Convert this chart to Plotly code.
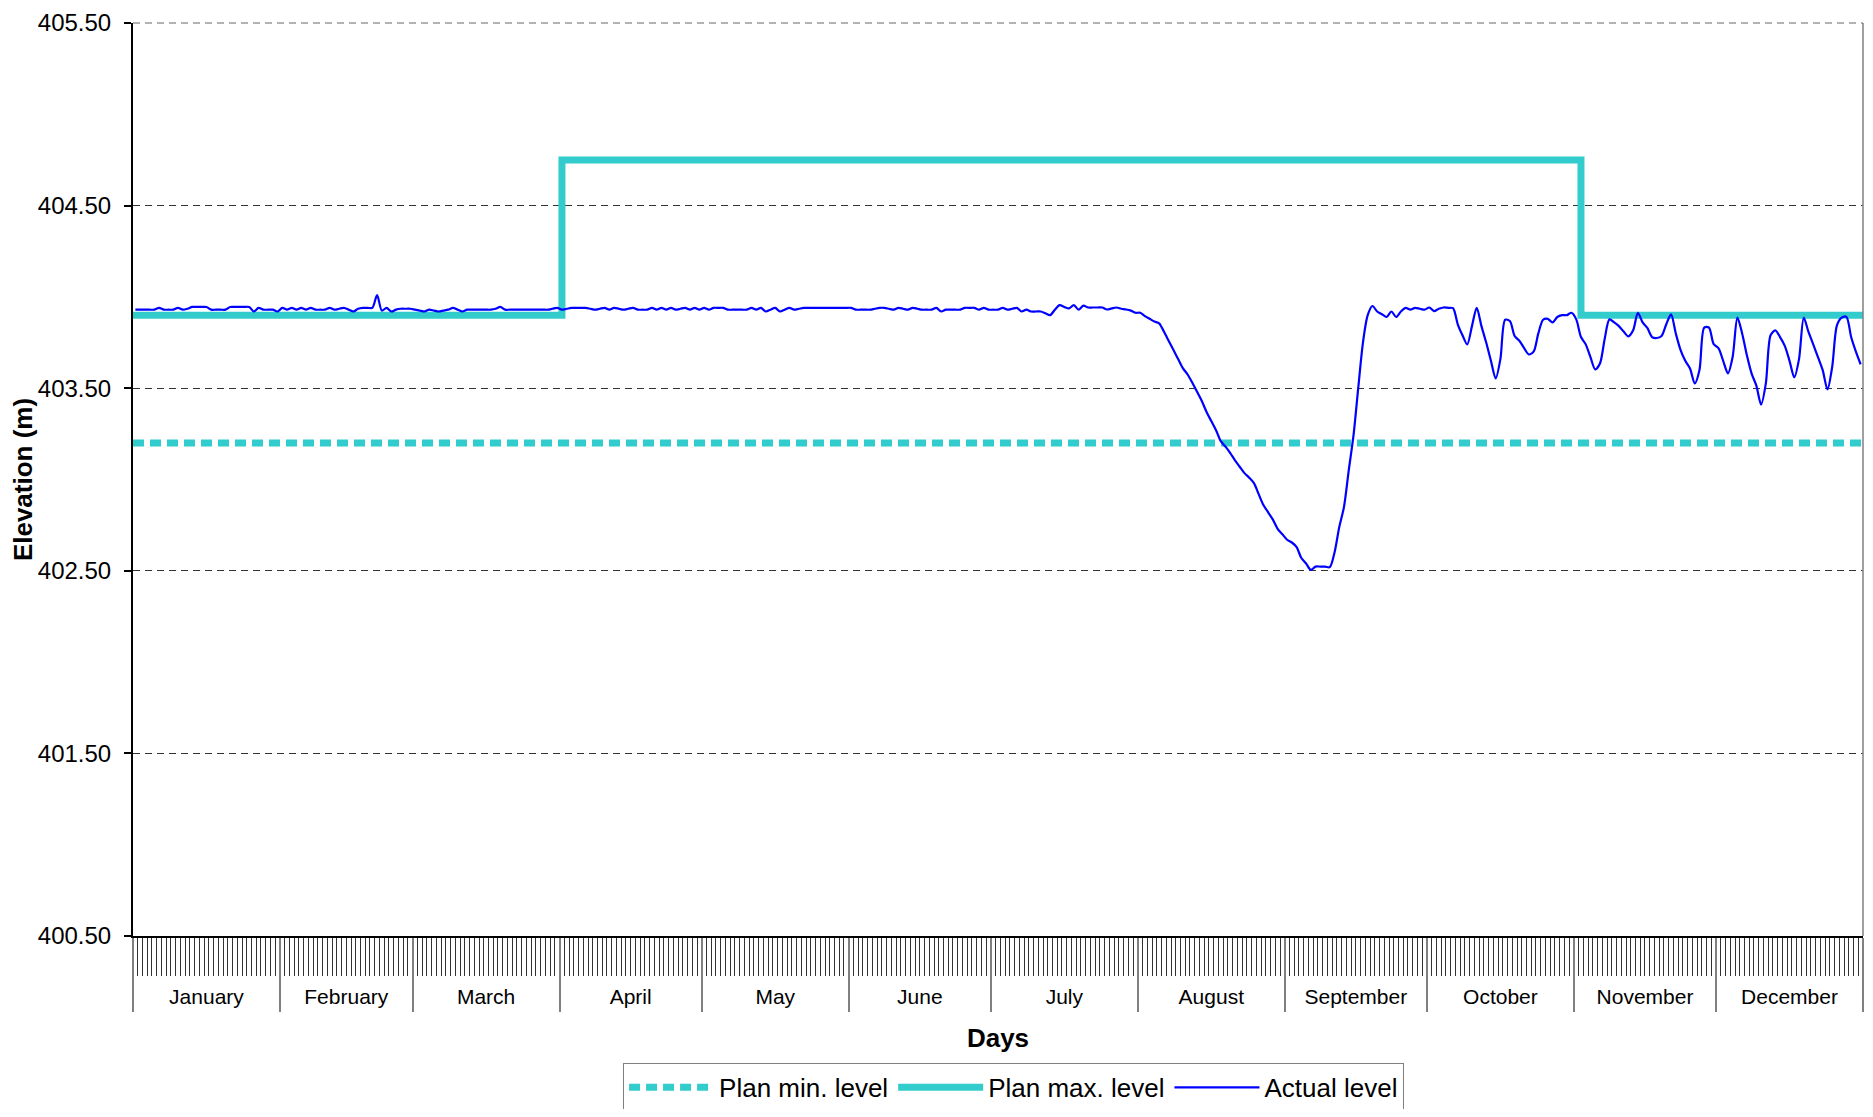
import plotly.graph_objects as go

# ---------------- data ----------------
month_names = ["January", "February", "March", "April", "May", "June",
               "July", "August", "September", "October", "November", "December"]
month_days = [31, 28, 31, 30, 31, 30, 31, 31, 30, 31, 30, 31]

y_ticks = [400.5, 401.5, 402.5, 403.5, 404.5, 405.5]

# Plan levels (day position, elevation m)
plan_min_day = [0, 365]
plan_min_level = [403.20, 403.20]
plan_max_day = [0, 90.5, 305.5, 365]
plan_max_level = [403.90, 404.75, 403.90, 403.90]

# Actual daily level, by month (m)
jan_level = [403.93, 403.93, 403.93, 403.93, 403.93, 403.94, 403.93, 403.93, 403.93, 403.94,
             403.93, 403.935, 403.945, 403.945, 403.945, 403.945, 403.93, 403.93, 403.93, 403.93,
             403.945, 403.945, 403.945, 403.945, 403.945, 403.92, 403.94, 403.93, 403.93, 403.93,
             403.92]
feb_level = [403.94, 403.93, 403.94, 403.93, 403.94, 403.93, 403.94, 403.93, 403.93, 403.93,
             403.94, 403.93, 403.935, 403.94, 403.93, 403.92, 403.935, 403.94, 403.94, 403.94,
             404.01, 403.925, 403.94, 403.92, 403.93, 403.935, 403.935, 403.935]
mar_level = [403.93, 403.925, 403.92, 403.93, 403.925, 403.92, 403.925, 403.93, 403.94, 403.93,
             403.92, 403.93, 403.93, 403.93, 403.93, 403.93, 403.93, 403.935, 403.945, 403.93,
             403.93, 403.93, 403.93, 403.93, 403.93, 403.93, 403.93, 403.93, 403.93, 403.935,
             403.94]
apr_level = [403.93, 403.935, 403.94, 403.94, 403.94, 403.94, 403.935, 403.93, 403.935, 403.94,
             403.93, 403.94, 403.935, 403.93, 403.935, 403.94, 403.93, 403.93, 403.93, 403.94,
             403.93, 403.94, 403.93, 403.94, 403.93, 403.935, 403.94, 403.93, 403.94, 403.93]
may_level = [403.94, 403.93, 403.94, 403.94, 403.94, 403.93, 403.93, 403.93, 403.93, 403.93,
             403.94, 403.93, 403.94, 403.92, 403.93, 403.94, 403.92, 403.93, 403.94, 403.93,
             403.935, 403.94, 403.94, 403.94, 403.94, 403.94, 403.94, 403.94, 403.94, 403.94,
             403.94]
jun_level = [403.94, 403.93, 403.93, 403.93, 403.93, 403.935, 403.94, 403.94, 403.935, 403.93,
             403.94, 403.935, 403.93, 403.94, 403.935, 403.93, 403.93, 403.93, 403.94, 403.92,
             403.93, 403.93, 403.93, 403.93, 403.94, 403.94, 403.94, 403.93, 403.94, 403.93]
jul_level = [403.93, 403.93, 403.94, 403.93, 403.935, 403.94, 403.92, 403.93, 403.92, 403.92,
             403.92, 403.91, 403.90, 403.93, 403.955, 403.945, 403.937, 403.955, 403.93, 403.952,
             403.942, 403.942, 403.942, 403.942, 403.931, 403.937, 403.942, 403.935, 403.931, 403.925,
             403.913]
aug_level = [403.913, 403.895, 403.88, 403.865, 403.855, 403.81, 403.76, 403.71, 403.66, 403.61,
             403.575, 403.53, 403.48, 403.43, 403.37, 403.32, 403.27, 403.21, 403.18, 403.145,
             403.105, 403.07, 403.035, 403.01, 402.98, 402.92, 402.86, 402.82, 402.78, 402.73,
             402.70]
sep_level = [402.67, 402.655, 402.63, 402.57, 402.54, 402.505, 402.523, 402.523, 402.523, 402.52,
             402.60, 402.74, 402.85, 403.05, 403.24, 403.50, 403.75, 403.90, 403.95, 403.92,
             403.905, 403.89, 403.92, 403.89, 403.92, 403.94, 403.93, 403.94, 403.935, 403.93]
oct_level = [403.942, 403.922, 403.935, 403.942, 403.94, 403.938, 403.85, 403.79, 403.74, 403.84,
             403.94, 403.84, 403.75, 403.65, 403.553, 403.66, 403.875, 403.868, 403.786, 403.76,
             403.72, 403.685, 403.70, 403.80, 403.875, 403.88, 403.86, 403.89, 403.90, 403.90,
             403.913]
nov_level = [403.877, 403.78, 403.74, 403.67, 403.603, 403.635, 403.77, 403.877, 403.86, 403.84,
             403.81, 403.784, 403.817, 403.913, 403.86, 403.83, 403.78, 403.775, 403.786, 403.85,
             403.904, 403.80, 403.71, 403.65, 403.608, 403.526, 403.60, 403.832, 403.832, 403.741]
dec_level = [403.72, 403.65, 403.581, 403.672, 403.886, 403.80, 403.68, 403.58, 403.514, 403.41,
             403.526, 403.79, 403.817, 403.78, 403.732, 403.65, 403.559, 403.659, 403.886, 403.808,
             403.74, 403.67, 403.599, 403.493, 403.617, 403.844, 403.886, 403.891, 403.78, 403.70,
             403.631]

actual_level = (jan_level + feb_level + mar_level + apr_level + may_level + jun_level +
                jul_level + aug_level + sep_level + oct_level + nov_level + dec_level)
actual_day = [i + 0.5 for i in range(len(actual_level))]

# month boundaries / centres on the day axis
month_bounds = [0]
for n in month_days:
    month_bounds.append(month_bounds[-1] + n)
month_centres = [(month_bounds[i] + month_bounds[i + 1]) / 2 for i in range(12)]
n_days = month_bounds[-1]

CYAN = "#33CCCC"
FONT = "Arial, Liberation Sans, sans-serif"

fig = go.Figure()
fig.add_trace(go.Scatter(x=plan_min_day, y=plan_min_level, mode="lines",
                         name="Plan min. level",
                         line=dict(color=CYAN, width=7, dash="11px,6px")))
fig.add_trace(go.Scatter(x=plan_max_day, y=plan_max_level, mode="lines",
                         name="Plan max. level", line_shape="hv",
                         line=dict(color=CYAN, width=7)))
fig.add_trace(go.Scatter(x=actual_day, y=actual_level, mode="lines",
                         name="Actual level",
                         line=dict(color="#0000FF", width=2.2, shape="spline", smoothing=0.8)))
# invisible trace to carry the month label axis
fig.add_trace(go.Scatter(x=month_centres, y=[None] * 12, xaxis="x2", showlegend=False,
                         hoverinfo="skip", mode="lines"))

fig.update_layout(
    width=1857, height=1101,
    margin=dict(l=125, r=2, t=15, b=173, autoexpand=False),
    plot_bgcolor="white", paper_bgcolor="white",
    font=dict(family=FONT, color="black"),
    xaxis=dict(range=[0, n_days], showline=True, linecolor="black", linewidth=1.5,
               ticks="outside", tickmode="array", tickvals=month_bounds, ticklen=74,
               tickcolor="#808080", tickwidth=1.5, showticklabels=False, showgrid=False,
               zeroline=False, automargin=False,
               minor=dict(ticks="outside", tickmode="array",
                          tickvals=list(range(0, n_days + 1)),
                          ticklen=38, tickcolor="#333333", tickwidth=1, showgrid=False)),
    xaxis2=dict(range=[0, n_days], overlaying="x", side="bottom", anchor="y",
                tickmode="array", tickvals=month_centres, ticktext=month_names,
                ticks="", showline=False, showgrid=False, zeroline=False, automargin=False,
                tickfont=dict(size=21), ticklabelstandoff=46,
                title=dict(text="<b>Days</b>", font=dict(size=26), standoff=21)),
    yaxis=dict(range=[400.5, 405.5], tickmode="array", tickvals=y_ticks, tickformat=".2f",
               ticks="outside", ticklen=7, tickcolor="black", tickwidth=1.5,
               showline=True, linecolor="black", linewidth=2, zeroline=False,
               showgrid=True, gridcolor="#333333", gridwidth=1, griddash="7px,5px",
               tickfont=dict(size=24), automargin=False, ticklabelstandoff=8,
               ticklabeloverflow="allow",
               title=dict(text="<b>Elevation (m)</b>", font=dict(size=26), standoff=0)),
    legend=dict(orientation="h", x=0.509, xanchor="center", y=-0.1390, yanchor="top",
                bordercolor="#808080", borderwidth=1, bgcolor="white",
                font=dict(size=26), itemwidth=85, traceorder="normal"),
    shapes=[dict(type="line", xref="paper", yref="paper", x0=1, x1=1, y0=0, y1=1,
                 line=dict(color="#808080", width=1.5)),
            dict(type="line", xref="paper", yref="paper", x0=0, x1=1, y0=1, y1=1,
                 line=dict(color="#666666", width=1, dash="7px,5px"))],
)

fig.write_html("out.html")
